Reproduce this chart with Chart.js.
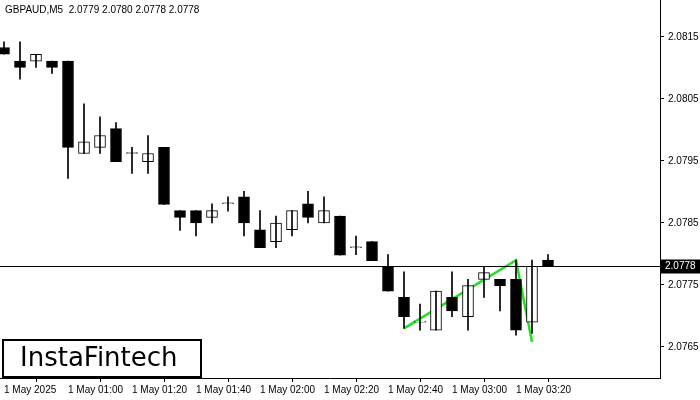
<!DOCTYPE html>
<html>
<head>
<meta charset="utf-8">
<style>html,body{margin:0;padding:0;background:#fff}#wrap{width:700px;height:400px}</style>
<script src="https://cdn.jsdelivr.net/npm/chart.js@4/dist/chart.umd.min.js"></script>
</head>
<body>
<div id="wrap"><canvas id="myChart"></canvas></div>
<script>
// M5 candles, 00:40 .. 03:30
const opens  = [2.08133,2.08111,2.08111,2.08111,2.08111,2.07962,2.07972,2.08002,2.07962,2.07949,2.07972,2.07870,2.07870,2.07859,2.07881,2.07892,2.07839,2.07820,2.07839,2.07881,2.07850,2.07861,2.07810,2.07820,2.07780,2.07730,2.07690,2.07677,2.07730,2.07699,2.07759,2.07759,2.07759,2.07690,2.07790];
const highs  = [2.08142,2.08142,2.08122,2.08111,2.08111,2.08042,2.08021,2.08012,2.07972,2.07991,2.07972,2.07870,2.07870,2.07881,2.07892,2.07901,2.07870,2.07861,2.07870,2.07901,2.07892,2.07861,2.07829,2.07820,2.07799,2.07771,2.07719,2.07740,2.07771,2.07759,2.07780,2.07759,2.07790,2.07790,2.07799];
const lows   = [2.08122,2.08082,2.08101,2.08091,2.07922,2.07962,2.07962,2.07949,2.07930,2.07930,2.07880,2.07838,2.07829,2.07850,2.07869,2.07829,2.07810,2.07810,2.07829,2.07850,2.07850,2.07798,2.07799,2.07789,2.07740,2.07680,2.07677,2.07677,2.07699,2.07677,2.07730,2.07708,2.07669,2.07672,2.07780];
const closes = [2.08122,2.08101,2.08122,2.08101,2.07972,2.07981,2.07991,2.07949,2.07962,2.07962,2.07880,2.07859,2.07850,2.07870,2.07881,2.07850,2.07810,2.07850,2.07870,2.07859,2.07870,2.07798,2.07810,2.07789,2.07740,2.07699,2.07690,2.07740,2.07708,2.07749,2.07770,2.07749,2.07677,2.07780,2.07780];
const timeLabels = ['1 May 2025','1 May 01:00','1 May 01:20','1 May 01:40','1 May 02:00','1 May 02:20','1 May 02:40','1 May 03:00','1 May 03:20'];
const priceTicks = [2.0765,2.0775,2.0785,2.0795,2.0805,2.0815];
const patternX = [25,32,33];
const patternY = [2.07680,2.07790,2.07658];
const lastPrice = 2.0778;

const idx = opens.map((_, i) => i);
const bull = idx.map(i => closes[i] >= opens[i]);

const overlay = {
  id: 'overlay',
  afterDraw(chart) {
    const c = chart.ctx, y = chart.scales.y, a = chart.chartArea;
    const py = Math.round(y.getPixelForValue(lastPrice)) + 0.5;
    c.save();
    c.strokeStyle = '#000'; c.lineWidth = 1;
    c.beginPath(); c.moveTo(0, py); c.lineTo(a.right, py); c.stroke();
    c.beginPath(); c.moveTo(a.right + 0.5, 0); c.lineTo(a.right + 0.5, a.bottom); c.stroke();
    c.fillStyle = '#000'; c.fillRect(a.right + 1, py - 7, 39, 14);
    c.fillStyle = '#fff'; c.font = '10px "Liberation Sans"'; c.textBaseline = 'middle';
    c.fillText(lastPrice.toFixed(4), a.right + 5, py);
    c.fillStyle = '#000'; c.textBaseline = 'top';
    c.fillText('GBPAUD,M5  2.0779 2.0780 2.0778 2.0778', 5, 5);
    c.fillStyle = '#fff'; c.fillRect(3, 340, 198, 37);
    c.lineWidth = 2; c.strokeRect(3, 340, 198, 37);
    c.fillStyle = '#000'; c.font = '26px "DejaVu Sans"'; c.textBaseline = 'middle';
    c.fillText('InstaFintech', 20, 359);
    c.restore();
  }
};

new Chart(document.getElementById('myChart'), {
  data: {
    datasets: [{
      type: 'bar',
      data: idx.map(i => ({ x: i, y: [lows[i], highs[i]] })),
      backgroundColor: '#000',
      barThickness: 1,
      grouped: false,
    }, {
      type: 'bar',
      data: idx.map(i => ({ x: i, y: [opens[i], closes[i]] })),
      backgroundColor: bull.map(b => b ? '#fff' : '#000'),
      borderColor: '#000',
      borderWidth: 1,
      borderSkipped: false,
      barThickness: 11,
      minBarLength: 1,
      grouped: false,
    }, {
      type: 'line',
      data: patternX.map((x, i) => ({ x, y: patternY[i] })),
      borderColor: '#22e022',
      borderWidth: 2.5,
      pointRadius: 0,
    }],
  },
  options: {
    responsive: true,
    maintainAspectRatio: false,
    animation: false,
    plugins: { legend: { display: false }, tooltip: { enabled: false } },
    scales: {
      x: {
        type: 'linear',
        offset: false,
        min: -0.25,
        max: 41,
        afterBuildTicks: s => { s.ticks = timeLabels.map((_, i) => ({ value: i * 4 })); },
        afterFit: s => { s.height = 22; },
        ticks: {
          callback: (v) => timeLabels[v / 4],
          align: 'start',
          color: '#000', font: { family: 'Liberation Sans', size: 10 }, maxRotation: 0, autoSkip: false, padding: 2,
        },
        grid: { display: true, drawOnChartArea: false, tickLength: 4, color: '#000' },
        border: { color: '#000' },
      },
      y: {
        position: 'right',
        min: 2.07600,
        max: 2.081934,
        afterBuildTicks: s => { s.ticks = priceTicks.map(v => ({ value: v })); },
        afterFit: s => { s.width = 40; },
        ticks: {
          callback: v => v.toFixed(4),
          color: '#000', font: { family: 'Liberation Sans', size: 10 }, padding: 4,
        },
        grid: { display: true, drawOnChartArea: false, tickLength: 4, color: '#000' },
        border: { color: '#000' },
      },
    },
  },
  plugins: [overlay],
});
</script>
</body>
</html>
